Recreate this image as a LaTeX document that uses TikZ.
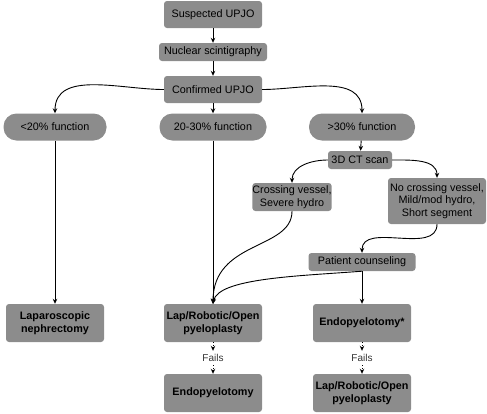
\documentclass[tikz,border=0pt]{standalone}
\usepackage{fontspec}
\setmainfont{Liberation Sans}
\usetikzlibrary{arrows.meta}
\definecolor{boxgray}{gray}{0.55}
\tikzset{
  Box/.style={fill=boxgray, rounded corners=3pt, align=center, inner sep=0pt,
    font=\fontsize{10.8}{12.5}\selectfont},
  Pill/.style={Box, rounded corners=13pt},
  Bold/.style={Box, font=\fontsize{10.8}{13}\selectfont\bfseries},
  Link/.style={-{Stealth[length=5pt,width=4.5pt]}, line width=0.9pt},
  Fail/.style={Link, dotted}
}

\begin{document}
\begin{tikzpicture}[x=1pt, y=-1pt]
    \useasboundingbox (0,0) rectangle (487,413);

    \node[Box, minimum width=98, minimum height=27] (S1) at (213,14.5) {Suspected UPJO};
    \node[Box, minimum width=108, minimum height=18] (N1) at (213,52) {Nuclear scintigraphy};
    \node[Box, minimum width=98, minimum height=27] (C1) at (213,89.5) {Confirmed UPJO};

    \node[Pill, minimum width=103, minimum height=27] (F1) at (55,127) {<20\% function};
    \node[Pill, minimum width=107, minimum height=27] (F2) at (213,127) {20-30\% function};
    \node[Pill, minimum width=106, minimum height=27] (F3) at (362,127) {>30\% function};

    \node[Box, minimum width=64, minimum height=18] (CT) at (360,160) {3D CT scan};
    \node[Box, minimum width=79, minimum height=28] (CV) at (292,197) {Crossing vessel,\\Severe hydro};
    \node[Box, minimum width=98, minimum height=46] (NC) at (437,201) {No crossing vessel,\\Mild/mod hydro,\\Short segment};
    \node[Box, minimum width=107, minimum height=18] (PC) at (362,262) {Patient counseling};

    \node[Bold, minimum width=98, minimum height=38] (LN) at (55,323) {Laparoscopic\\nephrectomy};
    \node[Bold, minimum width=98, minimum height=38] (LP) at (213,323) {Lap/Robotic/Open\\pyeloplasty};
    \node[Bold, minimum width=98, minimum height=38] (EP) at (362,323) {Endopyelotomy*};
    \node[Bold, minimum width=98, minimum height=38] (EP2) at (213,393) {Endopyelotomy};
    \node[Bold, minimum width=98, minimum height=38] (LP2) at (362,393) {Lap/Robotic/Open\\pyeloplasty};

    \node[font=\fontsize{10}{12}\selectfont, text=black!80] (FA) at (213,358) {Fails};
    \node[font=\fontsize{10}{12}\selectfont, text=black!80] (FB) at (362,358) {Fails};

    % main path
    \draw[Link] (S1) -- (N1);
    \draw[Link] (N1) -- (C1);
    \draw[Link] (C1) -- (F2);
    \draw[Link] (C1.west) to[out=180, in=90] (F1.north);
    \draw[Link] (C1.east) to[out=0, in=90] (F3.north);

    \draw[Link] (F1) -- (LN);
    \draw[Link] (F2) -- (LP);
    \draw[Link] (F3) -- (CT);

    % imaging branch
    \draw[Link] (CT.west) to[out=180, in=90] (CV.north);
    \draw[Link] (CT.east) to[out=0, in=90] (NC.north);
    \draw[Link] (CV.south) .. controls (292,250) and (213,240) .. (LP.north);
    \draw[Link] (NC.south) to[out=-90, in=90] (PC.north);
    \draw[Link] (PC.south) -- (EP);
    \draw[Link] (PC.south) .. controls (300,276) and (218,278) .. (LP.north);

    % failures
    \draw[Fail] (LP) -- (FA);
    \draw[Fail] (FA) -- (EP2);
    \draw[Fail] (EP) -- (FB);
    \draw[Fail] (FB) -- (LP2);
\end{tikzpicture}
\end{document}
